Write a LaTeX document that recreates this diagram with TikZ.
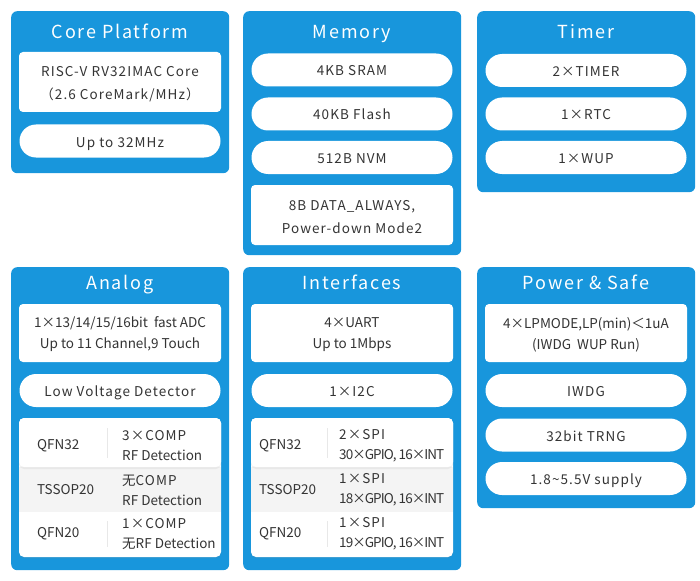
\documentclass[tikz,border=0pt]{standalone}
\usepackage{fontspec}
\setmainfont{Noto Sans CJK SC}
\newfontfamily\headingfont[LetterSpace=10]{Noto Sans CJK SC}
\newfontfamily\spacedfont[LetterSpace=8]{Noto Sans CJK SC}
\newfontfamily\condensedfont[LetterSpace=-7]{Noto Sans CJK SC}
\usetikzlibrary{positioning, shadows}
\definecolor{panelblue}{RGB}{24,150,220}
\definecolor{bodytext}{RGB}{52,52,52}
\definecolor{rowgray}{RGB}{244,244,244}
\definecolor{rulegray}{RGB}{232,232,232}
\tikzstyle{panel} = [rectangle, fill=panelblue, rounded corners=6pt, minimum width=218pt, inner sep=0pt, anchor=north west]
\tikzstyle{heading} = [text=white, inner sep=0pt, anchor=base, font=\headingfont\fontsize{18}{20}\selectfont]
\tikzstyle{pill} = [rectangle, fill=white, rounded corners=16.5pt, minimum width=201pt, minimum height=33pt, inner sep=0pt, text height=12pt, text depth=0pt, text=bodytext, font=\spacedfont\fontsize{13.5}{16}\selectfont]
\tikzstyle{card} = [rectangle, fill=white, rounded corners=4pt, minimum width=202pt, inner sep=0pt, align=center, text=bodytext]
\tikzstyle{divider} = [draw=rulegray, line width=0.8pt]
\tikzset{
  spaced/.style={font=\spacedfont\fontsize{13.5}{23}\selectfont},
  tight/.style={font=\fontsize{13.5}{21}\selectfont},
  table/.style={
    rectangle,
    fill=white,
    rounded corners=5pt,
    minimum width=202pt,
    minimum height=139pt,
    inner sep=0pt,
    drop shadow={shadow xshift=0pt, shadow yshift=-1.5pt, opacity=0.12}},
  row/.style={
    rectangle,
    minimum width=202pt,
    inner sep=0pt},
  cell/.style={
    anchor=west,
    align=left,
    inner sep=0pt,
    text=bodytext,
    font=\fontsize{13.5}{20}\selectfont}
}

\begin{document}
\begin{tikzpicture}[x=1pt, y=-1pt]
      \useasboundingbox (0,0) rectangle (700,580);

      % Define panels
      \node (core) [panel, minimum height=162pt] at (11,11) {};
      \node (memory) [panel, minimum height=244pt] at (243,11) {};
      \node (timer) [panel, minimum height=181pt] at (477,11) {};
      \node (analog) [panel, minimum height=303pt] at (11,267) {};
      \node (interfaces) [panel, minimum height=303pt] at (243,267) {};
      \node (power) [panel, minimum height=241pt] at (477,267) {};

      % Core Platform
      \node (core_title) [heading] at (120,39) {Core Platform};
      \node (core_cpu) [card, minimum height=60pt] at (120,82) {};
      \node (core_cpu_text) [spaced, text=bodytext, align=center, inner sep=0pt] at (120,84.5) {RISC-V RV32IMAC Core\\（2.6 CoreMark/MHz）};
      \node (core_clock) [pill] at (120,141) {Up to 32MHz};

      % Memory
      \node (memory_title) [heading] at (352,39) {Memory};
      \node (memory_sram) [pill] at (352,70) {4KB SRAM};
      \node (memory_flash) [pill] at (352,114) {40KB Flash};
      \node (memory_nvm) [pill] at (352,157.5) {512B NVM};
      \node (memory_data) [card, minimum height=60pt] at (352,215) {};
      \node (memory_data_text) [spaced, text=bodytext, align=center, inner sep=0pt] at (352,217) {8B DATA\_ALWAYS,\\Power-down Mode2};

      % Timer
      \node (timer_title) [heading] at (586,39) {Timer};
      \node (timer_timer) [pill] at (586,70.5) {2×TIMER};
      \node (timer_rtc) [pill] at (586,114) {1×RTC};
      \node (timer_wup) [pill] at (586,157.5) {1×WUP};

      % Analog
      \node (analog_title) [heading] at (120,289) {Analog};
      \node (analog_adc) [card, minimum height=58pt] at (120,333) {};
      \node (analog_adc_text) [tight, text=bodytext, align=center, inner sep=0pt] at (120,334.5) {1×13/14/15/16bit\ \ fast ADC\\Up to 11 Channel,9 Touch};
      \node (analog_lvd) [pill] at (120,390.5) {Low Voltage Detector};
      \node (analog_table) [table] at (120,487.5) {};
      \node (analog_row_b) [row, fill=rowgray, minimum height=45pt] at (120,489.5) {};
      \node (analog_row_a) [row, fill=white, rounded corners=5pt, minimum height=49pt,
        drop shadow={shadow xshift=0pt, shadow yshift=-2pt, opacity=0.10}] at (120,442.5) {};
      \draw [divider] (107,428) -- (107,458);
      \draw [divider] (107,521) -- (107,547);
      \node (analog_pkg_a) [cell] at (37,446) {QFN32};
      \node (analog_pkg_b) [cell] at (37,490) {TSSOP20};
      \node (analog_pkg_c) [cell] at (37,534) {QFN20};
      \node (analog_comp_a) [cell] at (122,446) {{\spacedfont 3×COMP}\\RF Detection};
      \node (analog_comp_b) [cell] at (122,490) {无{\spacedfont COMP}\\RF Detection};
      \node (analog_comp_c) [cell] at (122,534) {{\spacedfont 1×COMP}\\无RF Detection};

      % Interfaces
      \node (interfaces_title) [heading] at (352,289) {Interfaces};
      \node (interfaces_uart) [card, minimum height=58pt] at (352,333) {};
      \node (interfaces_uart_text) [tight, text=bodytext, align=center, inner sep=0pt] at (352,334.5) {4×UART\\Up to 1Mbps};
      \node (interfaces_i2c) [pill] at (352,390.5) {1×I2C};
      \node (interfaces_table) [table] at (352,487.5) {};
      \node (interfaces_row_b) [row, fill=rowgray, minimum height=45pt] at (352,489.5) {};
      \node (interfaces_row_a) [row, fill=white, rounded corners=5pt, minimum height=49pt,
        drop shadow={shadow xshift=0pt, shadow yshift=-2pt, opacity=0.10}] at (352,442.5) {};
      \draw [divider] (327,428) -- (327,458);
      \draw [divider] (327,521) -- (327,547);
      \node (interfaces_pkg_a) [cell] at (259,446) {QFN32};
      \node (interfaces_pkg_b) [cell] at (259,490) {TSSOP20};
      \node (interfaces_pkg_c) [cell] at (259,534) {QFN20};
      \node (interfaces_spi_a) [cell] at (339,446) {{\spacedfont 2×SPI}\\{\condensedfont 30×GPIO, 16×INT}};
      \node (interfaces_spi_b) [cell] at (339,490) {{\spacedfont 1×SPI}\\{\condensedfont 18×GPIO, 16×INT}};
      \node (interfaces_spi_c) [cell] at (339,534) {{\spacedfont 1×SPI}\\{\condensedfont 19×GPIO, 16×INT}};

      % Power & Safe
      \node (power_title) [heading] at (586,289) {Power \& Safe};
      \node (power_lp) [card, minimum height=58pt] at (586,333) {};
      \node (power_lp_text) [tight, text=bodytext, align=center, inner sep=0pt] at (586,334.5) {4×LPMODE,LP(min)＜1uA\\(IWDG\ \ WUP Run)};
      \node (power_iwdg) [pill] at (586,390.5) {IWDG};
      \node (power_trng) [pill] at (586,435) {32bit TRNG};
      \node (power_supply) [pill] at (586,478.5) {1.8\textasciitilde 5.5V supply};
    \end{tikzpicture}
\end{document}
